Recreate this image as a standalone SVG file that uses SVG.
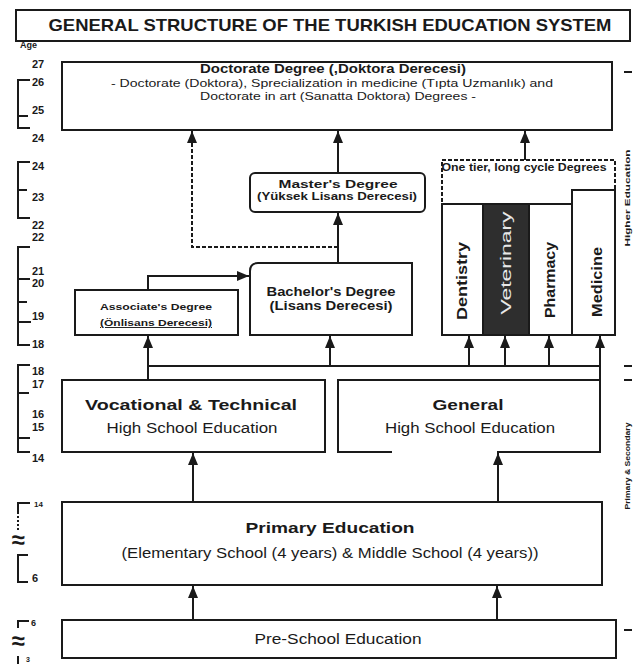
<svg xmlns="http://www.w3.org/2000/svg" width="636" height="664" viewBox="0 0 636 664">
<defs>
<marker id="ah" viewBox="0 0 12 10" refX="12" refY="5" markerWidth="12" markerHeight="10" orient="auto" markerUnits="userSpaceOnUse">
<path d="M0,0 L12,5 L0,10 z" fill="#1a1a1a"/>
</marker>
<style>
.box{fill:#fff;stroke:#1a1a1a;stroke-width:2}
.ln{fill:none;stroke:#1a1a1a;stroke-width:2}
.dash{fill:none;stroke:#1a1a1a;stroke-width:2;stroke-dasharray:4 2}
.ax{fill:none;stroke:#1a1a1a;stroke-width:2}
text{font-family:"Liberation Sans",Arial,sans-serif;fill:#1a1a1a}
.b{font-weight:bold}
.c{text-anchor:middle}
.age{font-size:11px;font-weight:bold}
</style>
</defs>
<rect width="636" height="664" fill="#fff"/>

<g id="title">
<rect class="box" x="16" y="10" width="614" height="31"/>
<text class="b c" x="330" y="31" font-size="17" textLength="563" lengthAdjust="spacingAndGlyphs">GENERAL STRUCTURE OF THE TURKISH EDUCATION SYSTEM</text>
</g>

<g id="age-axis">
<text x="20" y="48" font-size="9" class="b">Age</text>
<text class="age" x="32" y="68">27</text>
<path class="ax" d="M30,80 H18 V128 H30 M18,116 H28"/>
<text class="age" x="32" y="86">26</text>
<text class="age" x="32" y="114">25</text>
<text class="age" x="32" y="142">24</text>
<path class="ax" d="M30,162 H18 V218 H30 M18,190 H27"/>
<text class="age" x="32" y="170">24</text>
<text class="age" x="32" y="201">23</text>
<text class="age" x="32" y="229">22</text>
<text class="age" x="32" y="241">22</text>
<path class="ax" d="M30,247 H18 V345 H30 M18,279 H30 M18,302 H27 M18,322 H31"/>
<text class="age" x="32" y="275">21</text>
<text class="age" x="32" y="287">20</text>
<text class="age" x="32" y="320">19</text>
<text class="age" x="32" y="348">18</text>
<path class="ax" d="M30,365 H18 V452 H30 M18,393 H29 M18,438 H30"/>
<text class="age" x="32" y="375">18</text>
<text class="age" x="32" y="388">17</text>
<text class="age" x="32" y="418">16</text>
<text class="age" x="32" y="431">15</text>
<text class="age" x="32" y="462">14</text>
<path class="ax" d="M30,503 H18 V512"/>
<path d="M18,512 V532" fill="none" stroke="#1a1a1a" stroke-width="2" stroke-dasharray="2 2"/>
<text x="34" y="507" font-size="8" class="b">14</text>
<text x="18" y="548" font-size="24" class="b c">≈</text>
<path class="ax" d="M28,555 H18 V582 H28"/>
<text class="age" x="32" y="582">6</text>
<path class="ax" d="M29,621 H18 V628"/>
<text x="31" y="626" font-size="9" class="b">6</text>
<text x="18" y="649" font-size="24" class="b c">≈</text>
<path class="ax" d="M18,656 V664"/>
<text x="26" y="662" font-size="7" class="b">3</text>
</g>

<g id="side-labels">
<path class="ax" d="M624,72 H632 M624,366 H632 M624,380 H632 M624,630 H632"/>
<text class="b c" font-size="8" transform="translate(630,198) rotate(-90)" textLength="97" lengthAdjust="spacingAndGlyphs">Higher Education</text>
<text class="b c" font-size="8" transform="translate(630,466) rotate(-90)" textLength="87" lengthAdjust="spacingAndGlyphs">Primary &amp; Secondary</text>
</g>

<g id="connectors">
<path class="ln" d="M193,502 V453" marker-end="url(#ah)"/>
<path class="ln" d="M498,502 V453" marker-end="url(#ah)"/>
<path class="ln" d="M193,620 V586" marker-end="url(#ah)"/>
<path class="ln" d="M497,620 V586" marker-end="url(#ah)"/>
<path class="ln" d="M148,366 H600"/>
<path class="ln" d="M148,380 V336" marker-end="url(#ah)"/>
<path class="ln" d="M600,380 V336" marker-end="url(#ah)"/>
<path class="ln" d="M330,366 V336" marker-end="url(#ah)"/>
<path class="ln" d="M469,366 V336" marker-end="url(#ah)"/>
<path class="ln" d="M505,366 V336" marker-end="url(#ah)"/>
<path class="ln" d="M549,366 V336" marker-end="url(#ah)"/>
<path class="ln" d="M148,290 V276 H249" marker-end="url(#ah)"/>
<path class="ln" d="M338,263 V213" marker-end="url(#ah)"/>
<path class="dash" d="M338,247 H192 V131" marker-end="url(#ah)"/>
<path class="ln" d="M338,173 V131" marker-end="url(#ah)"/>
<path class="ln" d="M525,160 V131" marker-end="url(#ah)"/>
</g>

<g id="doctorate">
<rect class="box" x="62" y="62" width="550" height="68"/>
<text class="b c" x="333" y="73" font-size="12" textLength="266" lengthAdjust="spacingAndGlyphs">Doctorate Degree (,Doktora Derecesi)</text>
<text class="c" x="332" y="87" font-size="11" textLength="442" lengthAdjust="spacingAndGlyphs">- Doctorate (Doktora), Sprecialization in medicine (Tıpta Uzmanlık) and</text>
<text class="c" x="338" y="100" font-size="11" textLength="276" lengthAdjust="spacingAndGlyphs">Doctorate in art (Sanatta Doktora) Degrees -</text>
</g>

<g id="masters">
<rect class="box" x="250" y="173" width="175" height="39" rx="5"/>
<text class="b c" x="338" y="188" font-size="11" textLength="119" lengthAdjust="spacingAndGlyphs">Master's Degree</text>
<text class="b c" x="337" y="200" font-size="10" textLength="160" lengthAdjust="spacingAndGlyphs">(Yüksek Lisans Derecesi)</text>
</g>

<g id="bachelors">
<path class="box" d="M258,263 H412 V335 H250 V271 Q250,263 258,263 z"/>
<text class="b c" x="331" y="296" font-size="13" textLength="129" lengthAdjust="spacingAndGlyphs">Bachelor's Degree</text>
<text class="b c" x="331" y="310" font-size="13" textLength="123" lengthAdjust="spacingAndGlyphs">(Lisans Derecesi)</text>
</g>

<g id="associates">
<rect class="box" x="75" y="290" width="163" height="45"/>
<text class="b c" x="156" y="310" font-size="9.5" textLength="112" lengthAdjust="spacingAndGlyphs">Associate's Degree</text>
<text class="b c" x="156" y="326" font-size="9.5" text-decoration="underline" textLength="112" lengthAdjust="spacingAndGlyphs">(Önlisans Derecesi)</text>
</g>

<g id="long-cycle">
<rect class="dash" x="442" y="160" width="173" height="175"/>
<text class="b c" x="524" y="171" font-size="10" textLength="165" lengthAdjust="spacingAndGlyphs">One tier, long cycle Degrees</text>
</g>
<g id="dentistry">
<rect class="box" x="442" y="204" width="41" height="131"/>
<text class="b c" font-size="14" transform="translate(467,281) rotate(-90)" textLength="78" lengthAdjust="spacingAndGlyphs">Dentistry</text>
</g>
<g id="veterinary">
<rect x="483" y="204" width="46" height="131" fill="#2e2e2e" stroke="#1a1a1a" stroke-width="2"/>
<text class="c" font-size="15" transform="translate(511,263) rotate(-90)" textLength="103" lengthAdjust="spacingAndGlyphs" style="fill:#e8e8e8">Veterinary</text>
</g>
<g id="pharmacy">
<rect class="box" x="529" y="204" width="43" height="131"/>
<text class="b c" font-size="14" transform="translate(555,280) rotate(-90)" textLength="76" lengthAdjust="spacingAndGlyphs">Pharmacy</text>
</g>
<g id="medicine">
<rect class="box" x="572" y="190" width="43" height="145"/>
<text class="b c" font-size="14" transform="translate(602,282) rotate(-90)" textLength="70" lengthAdjust="spacingAndGlyphs">Medicine</text>
</g>

<g id="vocational">
<rect class="box" x="62" y="380" width="263" height="72"/>
<text class="b c" x="191" y="410" font-size="15" textLength="212" lengthAdjust="spacingAndGlyphs">Vocational &amp; Technical</text>
<text class="c" x="192" y="433" font-size="14" textLength="171" lengthAdjust="spacingAndGlyphs">High School Education</text>
</g>

<g id="general">
<path d="M338,380 H600 V452 H338 z" fill="#fff" stroke="none"/>
<path class="ln" d="M392,452 H338 V380 H600 V452 H497"/>
<text class="b c" x="468" y="410" font-size="15" textLength="71" lengthAdjust="spacingAndGlyphs">General</text>
<text class="c" x="470" y="433" font-size="14" textLength="170" lengthAdjust="spacingAndGlyphs">High School Education</text>
</g>

<g id="primary">
<rect class="box" x="62" y="502" width="540" height="83"/>
<text class="b c" x="330" y="533" font-size="15" textLength="169" lengthAdjust="spacingAndGlyphs">Primary Education</text>
<text class="c" x="330" y="558" font-size="14" textLength="417" lengthAdjust="spacingAndGlyphs">(Elementary School (4 years) &amp; Middle School (4 years))</text>
</g>

<g id="preschool">
<rect class="box" x="62" y="620" width="554" height="38"/>
<text class="c" x="338" y="644" font-size="14" textLength="167" lengthAdjust="spacingAndGlyphs">Pre-School Education</text>
</g>
</svg>
